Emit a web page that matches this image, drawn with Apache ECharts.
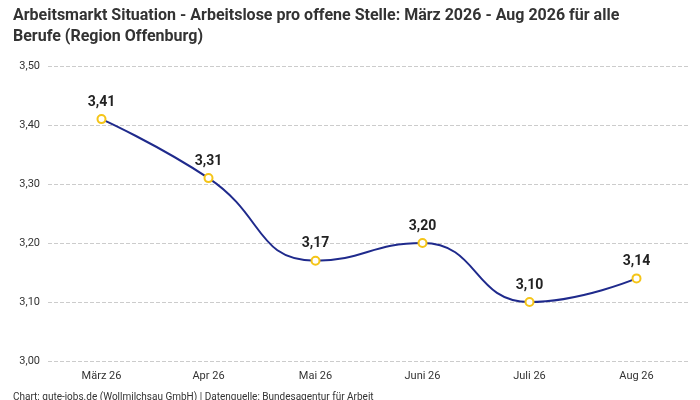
<!DOCTYPE html>
<html><head><meta charset="utf-8">
<script src="https://cdn.jsdelivr.net/npm/echarts@6/dist/echarts.min.js"></script>
<style>body{margin:0}#main{width:700px;height:400px}</style>
</head><body><div id="main"></div>
<script>
var months = ['März 26', 'Apr 26', 'Mai 26', 'Juni 26', 'Juli 26', 'Aug 26'];
var values = [3.41, 3.31, 3.17, 3.20, 3.10, 3.14];

var chart = echarts.init(document.getElementById('main'));
var fmt = function (v) { return v.toFixed(2).replace('.', ','); };
chart.setOption({
  textStyle: { fontFamily: 'Roboto' },
  title: [{
    text: 'Arbeitsmarkt Situation - Arbeitslose pro offene Stelle: März 2026 - Aug 2026 für alle\nBerufe (Region Offenburg)',
    left: 8, top: 0,
    textStyle: { fontSize: 16, fontWeight: 'bold', color: '#333', lineHeight: 21, fontFamily: 'Roboto' }
  }, {
    text: 'Chart: gute-jobs.de (Wollmilchsau GmbH) | Datenquelle: Bundesagentur für Arbeit',
    left: 8, top: 387,
    textStyle: { fontSize: 10, fontWeight: 'normal', color: '#333', fontFamily: 'Roboto' }
  }],
  grid: { left: 48, right: 10, top: 66, bottom: 39 },
  xAxis: {
    type: 'category', data: months,
    axisLine: { show: false }, axisTick: { show: false },
    axisLabel: { fontSize: 11, color: '#333', margin: 10 }
  },
  yAxis: {
    type: 'value', min: 3.0, max: 3.5, interval: 0.1,
    axisLabel: { fontSize: 11, color: '#333', formatter: fmt },
    splitLine: { lineStyle: { type: 'dashed', color: '#ccc' } }
  },
  series: [{
    type: 'line', data: values, smooth: true,
    lineStyle: { color: '#1f2a8c', width: 2 },
    symbol: 'circle', symbolSize: 8,
    itemStyle: { color: '#fff', borderColor: '#f5c518', borderWidth: 2 },
    label: { show: true, position: 'top', distance: 5, fontSize: 14, fontWeight: 'bold', color: '#222',
      formatter: function (p) { return fmt(p.value); } }
  }]
});
</script></body></html>
